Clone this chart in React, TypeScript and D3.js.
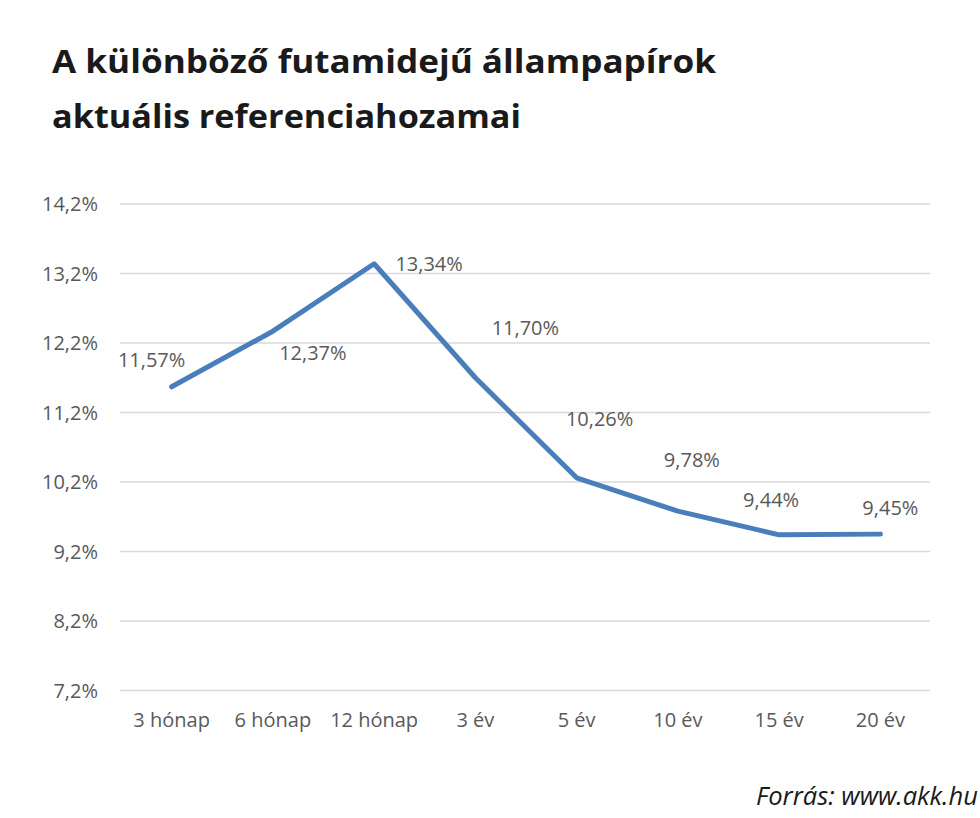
import React from "react";
import * as d3 from "d3";

const categories = ["3 hónap", "6 hónap", "12 hónap", "3 év", "5 év", "10 év", "15 év", "20 év"];
const yields = [11.57, 12.37, 13.34, 11.7, 10.26, 9.78, 9.44, 9.45];
const yTicks = [7.2, 8.2, 9.2, 10.2, 11.2, 12.2, 13.2, 14.2];
const titleLines = ["A különböző futamidejű állampapírok", "aktuális referenciahozamai"];
const titleWidths = [664, 469];
const sourceText = "Forrás: www.akk.hu";
// label placement offsets (layout only)
const labelDx = [-20, 40, 55, 50, 23, 14, -8, 10];
const labelDy = [-20, 29, 7, -43, -52, -44, -28, -19];

const W = 980;
const H = 818;
const fmt = (v: number, d: number) => v.toFixed(d).replace(".", ",") + "%";

export default function App() {
  const x = d3.scaleBand<string>().domain(categories).range([121, 931]);
  const y = d3.scaleLinear().domain([7.2, 14.2]).range([690.5, 204]);
  const line = d3
    .line<number>()
    .x((_, i) => (x(categories[i]) as number) + x.bandwidth() / 2)
    .y((d) => y(d));
  const font = "'Open Sans', sans-serif";
  const grey = "#595959";
  return (
    <svg
      width={W}
      height={H}
      style={{ position: "absolute", left: 0, top: 0, background: "#fff" }}
    >
      <rect width={W} height={H} fill="#fff" />
      {titleLines.map((t, i) => (
        <text
          key={t}
          x={52}
          y={73 + i * 55}
          fontFamily={font}
          fontWeight={700}
          fontSize={33}
          fill="#1a1a1a"
          textLength={titleWidths[i]}
          lengthAdjust="spacingAndGlyphs"
        >
          {t}
        </text>
      ))}
      {yTicks.map((t) => (
        <g key={t}>
          <line x1={120} x2={930} y1={y(t)} y2={y(t)} stroke="#d9d9d9" strokeWidth={1.6} />
          <text
            x={98}
            y={y(t)}
            dy="0.35em"
            textAnchor="end"
            fontFamily={font}
            fontSize={20}
            fill={grey}
          >
            {fmt(t, 1)}
          </text>
        </g>
      ))}
      {categories.map((c) => (
        <text
          key={c}
          x={(x(c) as number) + x.bandwidth() / 2}
          y={727}
          textAnchor="middle"
          fontFamily={font}
          fontSize={20}
          fill={grey}
        >
          {c}
        </text>
      ))}
      <path
        d={line(yields) || ""}
        fill="none"
        stroke="#4a7ebb"
        strokeWidth={5}
        strokeLinejoin="round"
        strokeLinecap="round"
      />
      {yields.map((v, i) => (
        <text
          key={i}
          x={(x(categories[i]) as number) + x.bandwidth() / 2 + labelDx[i]}
          y={y(v) + labelDy[i]}
          textAnchor="middle"
          fontFamily={font}
          fontSize={20}
          fill={grey}
        >
          {fmt(v, 2)}
        </text>
      ))}
      <text
        x={978}
        y={805}
        textAnchor="end"
        fontFamily={font}
        fontStyle="italic"
        fontSize={25}
        fill="#1a1a1a"
        textLength={222}
        lengthAdjust="spacingAndGlyphs"
      >
        {sourceText}
      </text>
    </svg>
  );
}
